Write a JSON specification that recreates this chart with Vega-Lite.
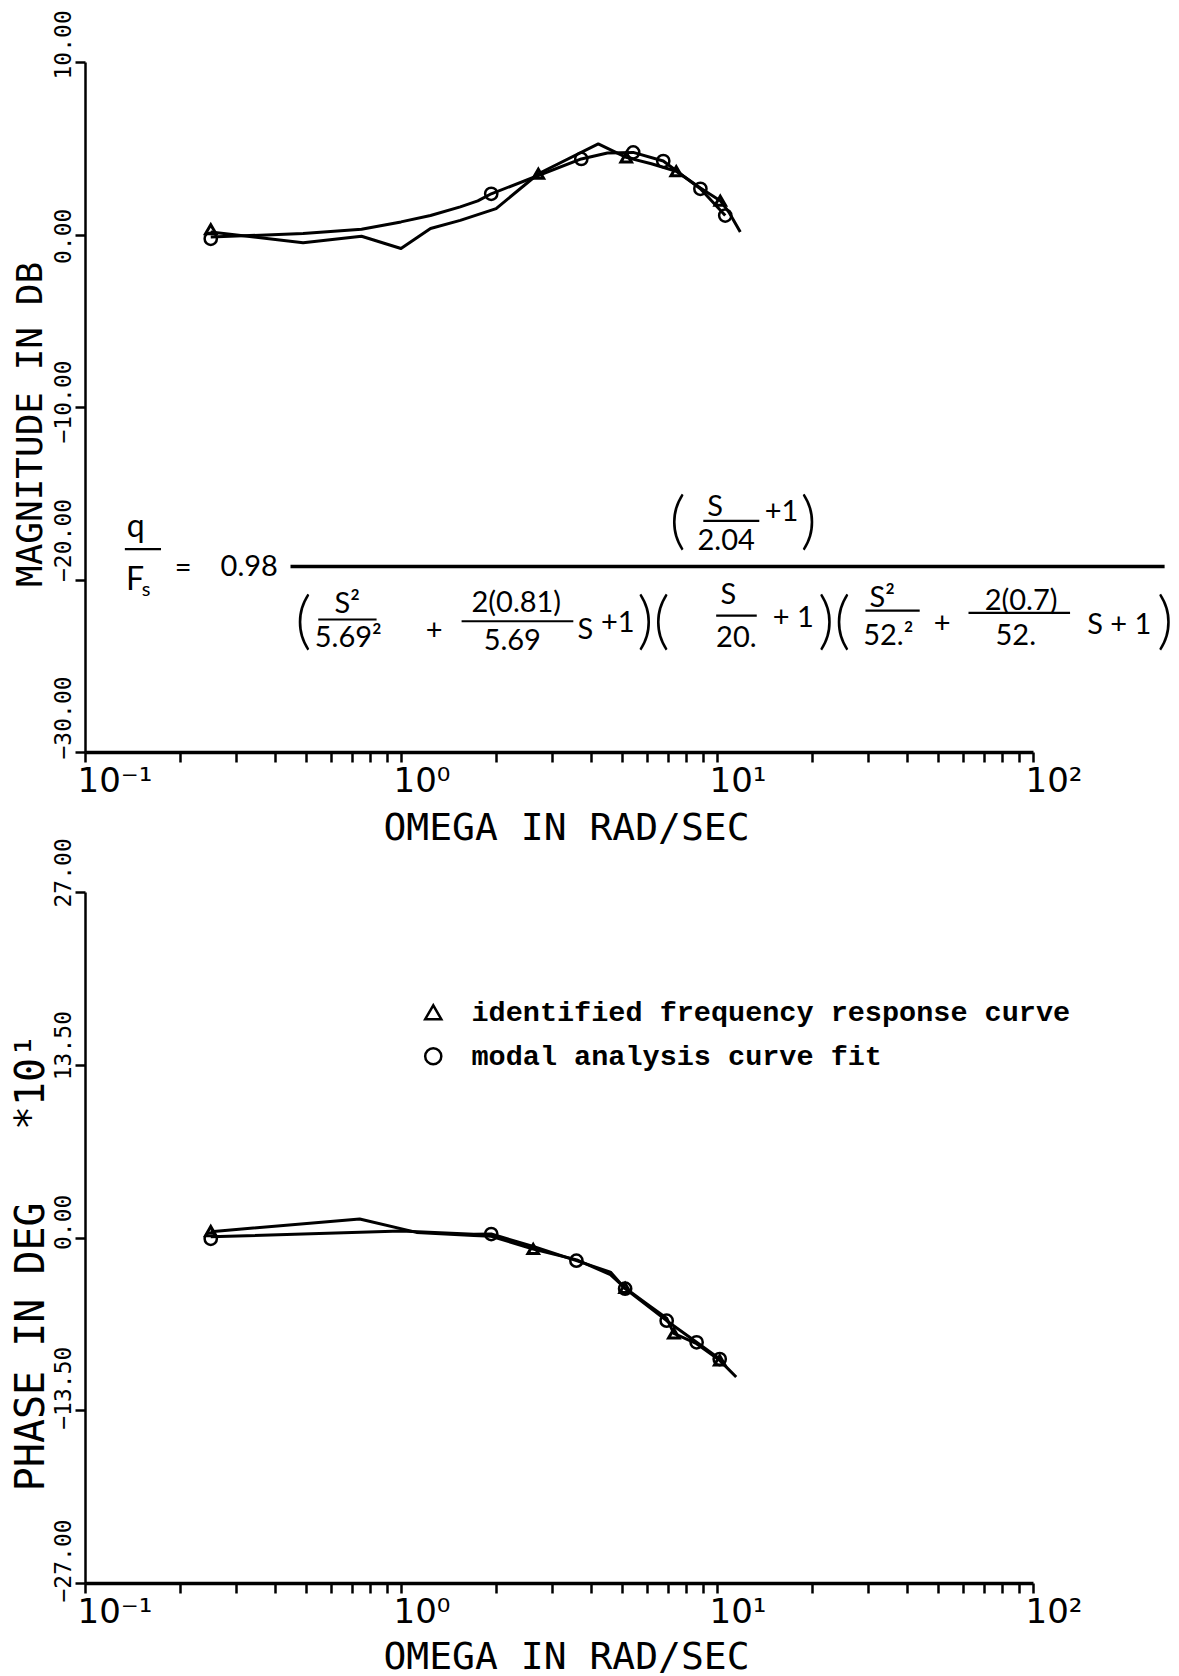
{
  "$schema": "https://vega.github.io/schema/vega-lite/v6.json",
  "background": "white",
  "padding": {"left": 10, "top": 9, "right": 0, "bottom": 0},
  "bounds": "flush",
  "spacing": 140,
  "config": {
    "view": {"stroke": null},
    "axis": {"grid": false, "domainColor": "black", "tickColor": "black", "labelColor": "black", "titleColor": "black", "titleFontWeight": "normal"}
  },
  "resolve": {
    "scale": {"x": "independent", "y": "independent", "shape": "independent"},
    "legend": {"shape": "independent"}
  },
  "datasets": {
    "magLine": [
      {"series": "identified frequency response curve", "w": 0.25, "v": 0.15},
      {"series": "identified frequency response curve", "w": 0.49, "v": -0.48},
      {"series": "identified frequency response curve", "w": 0.75, "v": -0.10},
      {"series": "identified frequency response curve", "w": 1.0, "v": -0.81},
      {"series": "identified frequency response curve", "w": 1.24, "v": 0.35},
      {"series": "identified frequency response curve", "w": 1.54, "v": 0.82},
      {"series": "identified frequency response curve", "w": 1.75, "v": 1.15},
      {"series": "identified frequency response curve", "w": 2.0, "v": 1.5},
      {"series": "identified frequency response curve", "w": 2.72, "v": 3.52},
      {"series": "identified frequency response curve", "w": 4.21, "v": 5.25},
      {"series": "identified frequency response curve", "w": 5.16, "v": 4.47},
      {"series": "identified frequency response curve", "w": 6.2, "v": 4.1},
      {"series": "identified frequency response curve", "w": 7.43, "v": 3.67},
      {"series": "identified frequency response curve", "w": 8.86, "v": 2.7},
      {"series": "identified frequency response curve", "w": 10.24, "v": 1.96},
      {"series": "identified frequency response curve", "w": 10.9, "v": 1.3},
      {"series": "identified frequency response curve", "w": 11.85, "v": 0.15},
      {"series": "modal analysis curve fit", "w": 0.25, "v": -0.15},
      {"series": "modal analysis curve fit", "w": 0.49, "v": 0.06},
      {"series": "modal analysis curve fit", "w": 0.75, "v": 0.30},
      {"series": "modal analysis curve fit", "w": 1.0, "v": 0.73},
      {"series": "modal analysis curve fit", "w": 1.24, "v": 1.1},
      {"series": "modal analysis curve fit", "w": 1.54, "v": 1.6},
      {"series": "modal analysis curve fit", "w": 1.75, "v": 1.95},
      {"series": "modal analysis curve fit", "w": 1.93, "v": 2.36},
      {"series": "modal analysis curve fit", "w": 2.72, "v": 3.42},
      {"series": "modal analysis curve fit", "w": 3.72, "v": 4.38},
      {"series": "modal analysis curve fit", "w": 4.5, "v": 4.72},
      {"series": "modal analysis curve fit", "w": 5.43, "v": 4.76},
      {"series": "modal analysis curve fit", "w": 6.76, "v": 4.26},
      {"series": "modal analysis curve fit", "w": 8.86, "v": 2.65},
      {"series": "modal analysis curve fit", "w": 10.62, "v": 1.1}
    ],
    "magTri": [
      {"series": "identified frequency response curve", "w": 0.25, "v": 0.3},
      {"series": "identified frequency response curve", "w": 2.72, "v": 3.52},
      {"series": "identified frequency response curve", "w": 5.16, "v": 4.47},
      {"series": "identified frequency response curve", "w": 7.43, "v": 3.67},
      {"series": "identified frequency response curve", "w": 10.24, "v": 1.96}
    ],
    "magCirc": [
      {"series": "modal analysis curve fit", "w": 0.25, "v": -0.25},
      {"series": "modal analysis curve fit", "w": 1.93, "v": 2.36},
      {"series": "modal analysis curve fit", "w": 3.72, "v": 4.38},
      {"series": "modal analysis curve fit", "w": 5.43, "v": 4.76},
      {"series": "modal analysis curve fit", "w": 6.76, "v": 4.26},
      {"series": "modal analysis curve fit", "w": 8.86, "v": 2.65},
      {"series": "modal analysis curve fit", "w": 10.62, "v": 1.1}
    ],
    "phLine": [
      {"series": "identified frequency response curve", "w": 0.25, "v": 0.45},
      {"series": "identified frequency response curve", "w": 0.74, "v": 1.45},
      {"series": "identified frequency response curve", "w": 1.12, "v": 0.4},
      {"series": "identified frequency response curve", "w": 1.7, "v": 0.15},
      {"series": "identified frequency response curve", "w": 1.93, "v": 0.1},
      {"series": "identified frequency response curve", "w": 2.62, "v": -0.9},
      {"series": "identified frequency response curve", "w": 3.6, "v": -1.75},
      {"series": "identified frequency response curve", "w": 4.6, "v": -2.9},
      {"series": "identified frequency response curve", "w": 5.12, "v": -3.95},
      {"series": "identified frequency response curve", "w": 6.0, "v": -5.2},
      {"series": "identified frequency response curve", "w": 6.93, "v": -6.3},
      {"series": "identified frequency response curve", "w": 7.3, "v": -7.5},
      {"series": "identified frequency response curve", "w": 8.62, "v": -8.3},
      {"series": "identified frequency response curve", "w": 10.2, "v": -9.6},
      {"series": "identified frequency response curve", "w": 11.5, "v": -10.9},
      {"series": "modal analysis curve fit", "w": 0.25, "v": 0.05},
      {"series": "modal analysis curve fit", "w": 1.0, "v": 0.5},
      {"series": "modal analysis curve fit", "w": 1.7, "v": 0.25},
      {"series": "modal analysis curve fit", "w": 1.93, "v": 0.27},
      {"series": "modal analysis curve fit", "w": 2.62, "v": -0.7},
      {"series": "modal analysis curve fit", "w": 3.59, "v": -1.81},
      {"series": "modal analysis curve fit", "w": 4.6, "v": -2.7},
      {"series": "modal analysis curve fit", "w": 5.12, "v": -4.0},
      {"series": "modal analysis curve fit", "w": 6.93, "v": -6.5},
      {"series": "modal analysis curve fit", "w": 8.62, "v": -8.19},
      {"series": "modal analysis curve fit", "w": 10.2, "v": -9.5}
    ],
    "phTri": [
      {"series": "identified frequency response curve", "w": 0.25, "v": 0.5},
      {"series": "identified frequency response curve", "w": 2.62, "v": -0.9},
      {"series": "identified frequency response curve", "w": 5.12, "v": -3.95},
      {"series": "identified frequency response curve", "w": 7.3, "v": -7.5},
      {"series": "identified frequency response curve", "w": 10.2, "v": -9.6}
    ],
    "phCirc": [
      {"series": "modal analysis curve fit", "w": 0.25, "v": -0.1},
      {"series": "modal analysis curve fit", "w": 1.93, "v": 0.27},
      {"series": "modal analysis curve fit", "w": 3.59, "v": -1.81},
      {"series": "modal analysis curve fit", "w": 5.12, "v": -4.0},
      {"series": "modal analysis curve fit", "w": 6.93, "v": -6.5},
      {"series": "modal analysis curve fit", "w": 8.62, "v": -8.19},
      {"series": "modal analysis curve fit", "w": 10.2, "v": -9.5}
    ]
  },
  "vconcat": [
    {
      "width": 948,
      "height": 690,
      "encoding": {
        "x": {
          "field": "w", "type": "quantitative",
          "scale": {"type": "log", "domain": [0.1, 100]},
          "axis": {
            "title": "OMEGA IN RAD/SEC",
            "values": [0.1,0.2,0.3,0.4,0.5,0.6,0.7,0.8,0.9,1,2,3,4,5,6,7,8,9,10,20,30,40,50,60,70,80,90,100],
            "labelExpr": "datum.value == 0.1 ? '10⁻¹' : datum.value == 1 ? '10⁰' : datum.value == 10 ? '10¹' : datum.value == 100 ? '10²' : ''",
            "domainWidth": 3.5, "tickWidth": 2.5, "tickSize": 10,
            "labelFont": "DejaVu Sans", "labelFontSize": 34, "labelAlign": "left", "labelBaseline": "top",
            "labelPadding": 2, "labelOffset": -8, "labelFlush": false, "labelOverlap": false, "labelBound": false,
            "titleFont": "DejaVu Sans Mono", "titleFontSize": 38, "titleX": 481, "titleY": 87,
            "titleAlign": "center", "titleBaseline": "alphabetic"
          }
        },
        "y": {
          "field": "v", "type": "quantitative",
          "scale": {"domain": [-30, 10], "nice": false, "zero": false},
          "axis": {
            "title": "MAGNITUDE IN DB",
            "values": [-30, -20, -10, 0, 10],
            "format": ".2f",
            "domainWidth": 2.5, "tickWidth": 2.5, "tickSize": 10,
            "labelAngle": 270, "labelAlign": "left", "labelBaseline": "alphabetic", "labelPadding": 5,
            "labelOffset": {"condition": [
              {"test": "datum.value == 10", "value": 17},
              {"test": "datum.value == 0", "value": 29},
              {"test": "datum.value == -10", "value": 36},
              {"test": "datum.value == -20", "value": 2}
            ], "value": 7},
            "labelFont": "DejaVu Sans Mono", "labelFontSize": 23, "labelFlush": false, "labelOverlap": false, "labelBound": false,
            "titleFont": "DejaVu Sans Mono", "titleFontSize": 36, "titleAngle": 270,
            "titleX": -44, "titleY": 362, "titleAlign": "center", "titleBaseline": "alphabetic"
          }
        }
      },
      "layer": [
        {
          "data": {"name": "magLine"},
          "mark": {"type": "line", "color": "black", "strokeWidth": 3, "strokeJoin": "round"},
          "encoding": {"detail": {"field": "series", "type": "nominal"}}
        },
        {
          "data": {"name": "magTri"},
          "mark": {"type": "point", "filled": false, "color": "black", "strokeWidth": 3, "size": 110, "opacity": 1},
          "encoding": {"shape": {"field": "series", "type": "nominal", "scale": {"domain": ["identified frequency response curve", "modal analysis curve fit"], "range": ["triangle-up", "circle"]}, "legend": null}}
        },
        {
          "data": {"name": "magCirc"},
          "mark": {"type": "point", "filled": false, "color": "black", "strokeWidth": 2.5, "size": 150, "opacity": 1},
          "encoding": {"shape": {"field": "series", "type": "nominal", "scale": {"domain": ["identified frequency response curve", "modal analysis curve fit"], "range": ["triangle-up", "circle"]}, "legend": null}}
        },
        {
          "data": {"values": [
            {"w": 0.1337, "w2": 0.174, "v": -18.24},
            {"w": 9.05, "w2": 13.61, "v": -16.6},
            {"w": 0.547, "w2": 0.837, "v": -22.32},
            {"w": 1.555, "w2": 3.51, "v": -22.42},
            {"w": 9.94, "w2": 13.36, "v": -22.1},
            {"w": 29.5, "w2": 43.8, "v": -21.8},
            {"w": 62.5, "w2": 131, "v": -21.93}
          ]},
          "mark": {"type": "rule", "color": "black", "strokeWidth": 2.2},
          "encoding": {"x2": {"field": "w2"}}
        },
        {
          "data": {"values": [{"w": 0.447, "w2": 260.9, "v": -19.24}]},
          "mark": {"type": "rule", "color": "black", "strokeWidth": 3.5},
          "encoding": {"x2": {"field": "w2"}}
        },
        {
          "data": {"values": [
            {"t": "q", "w": 0.1448, "v": -16.93},
            {"t": "F", "w": 0.1439, "v": -20.05}
          ]},
          "mark": {"type": "text", "font": "Lato", "fontSize": 32, "color": "black", "align": "center", "baseline": "middle"},
          "encoding": {"text": {"field": "t"}}
        },
        {
          "data": {"values": [{"t": "s", "w": 0.156, "v": -20.6}]},
          "mark": {"type": "text", "font": "Lato", "fontSize": 20, "color": "black", "align": "center", "baseline": "middle"},
          "encoding": {"text": {"field": "t"}}
        },
        {
          "data": {"values": [
            {"t": "=", "w": 0.2046, "v": -19.36},
            {"t": "0.98", "w": 0.331, "v": -19.3},
            {"t": "S", "w": 9.87, "v": -15.8},
            {"t": "2.04", "w": 10.69, "v": -17.75},
            {"t": "+1", "w": 16.0, "v": -16.1},
            {"t": "S²", "w": 0.676, "v": -21.4},
            {"t": "5.69²", "w": 0.681, "v": -23.38},
            {"t": "+", "w": 1.274, "v": -22.98},
            {"t": "2(0.81)", "w": 2.317, "v": -21.34},
            {"t": "5.69", "w": 2.25, "v": -23.57},
            {"t": "S", "w": 3.83, "v": -22.92},
            {"t": "+1", "w": 4.85, "v": -22.54},
            {"t": "S", "w": 10.86, "v": -20.9},
            {"t": "20.", "w": 11.51, "v": -23.4},
            {"t": "+ 1", "w": 17.43, "v": -22.25},
            {"t": "S²", "w": 33.34, "v": -21.1},
            {"t": "52.²", "w": 34.84, "v": -23.3},
            {"t": "+", "w": 51.6, "v": -22.57},
            {"t": "2(0.7)", "w": 91.7, "v": -21.22},
            {"t": "52.", "w": 88.2, "v": -23.27},
            {"t": "S + 1", "w": 187.5, "v": -22.63}
          ]},
          "mark": {"type": "text", "font": "Lato", "fontSize": 29, "color": "black", "align": "center", "baseline": "middle"},
          "encoding": {"text": {"field": "t"}}
        },
        {
          "data": {"values": [
            {"t": "(", "w": 7.5, "v": -16.7},
            {"t": ")", "w": 19.5, "v": -16.7},
            {"t": "(", "w": 0.491, "v": -22.54},
            {"t": ")(", "w": 6.3, "v": -22.54},
            {"t": ")(", "w": 23.5, "v": -22.54},
            {"t": ")", "w": 262, "v": -22.54}
          ]},
          "mark": {"type": "text", "font": "Lato", "fontWeight": 300, "fontSize": 63, "color": "black", "align": "center", "baseline": "middle"},
          "encoding": {"text": {"field": "t"}}
        }
      ]
    },
    {
      "width": 948,
      "height": 691,
      "encoding": {
        "x": {
          "field": "w", "type": "quantitative",
          "scale": {"type": "log", "domain": [0.1, 100]},
          "axis": {
            "title": "OMEGA IN RAD/SEC",
            "values": [0.1,0.2,0.3,0.4,0.5,0.6,0.7,0.8,0.9,1,2,3,4,5,6,7,8,9,10,20,30,40,50,60,70,80,90,100],
            "labelExpr": "datum.value == 0.1 ? '10⁻¹' : datum.value == 1 ? '10⁰' : datum.value == 10 ? '10¹' : datum.value == 100 ? '10²' : ''",
            "domainWidth": 3.5, "tickWidth": 2.5, "tickSize": 10,
            "labelFont": "DejaVu Sans", "labelFontSize": 34, "labelAlign": "left", "labelBaseline": "top",
            "labelPadding": 2, "labelOffset": -8, "labelFlush": false, "labelOverlap": false, "labelBound": false,
            "titleFont": "DejaVu Sans Mono", "titleFontSize": 38, "titleX": 481, "titleY": 85,
            "titleAlign": "center", "titleBaseline": "alphabetic"
          }
        },
        "y": {
          "field": "v", "type": "quantitative",
          "scale": {"domain": [-27, 27], "nice": false, "zero": false},
          "axis": {
            "title": "PHASE IN DEG\u00a0\u00a0\u00a0*10¹",
            "values": [-27, -13.5, 0, 13.5, 27],
            "format": ".2f",
            "domainWidth": 2.5, "tickWidth": 2.5, "tickSize": 10,
            "labelAngle": 270, "labelAlign": "left", "labelBaseline": "alphabetic", "labelPadding": 5,
            "labelOffset": {"condition": [
              {"test": "datum.value == 27", "value": 15},
              {"test": "datum.value == 13.5", "value": 15},
              {"test": "datum.value == 0", "value": 12}
            ], "value": 19},
            "labelFont": "DejaVu Sans Mono", "labelFontSize": 23, "labelFlush": false, "labelOverlap": false, "labelBound": false,
            "titleFont": "DejaVu Sans Mono", "titleFontSize": 40, "titleAngle": 270,
            "titleX": -42, "titleY": 370, "titleAlign": "center", "titleBaseline": "alphabetic"
          }
        }
      },
      "layer": [
        {
          "data": {"name": "phLine"},
          "mark": {"type": "line", "color": "black", "strokeWidth": 3, "strokeJoin": "round"},
          "encoding": {"detail": {"field": "series", "type": "nominal"}}
        },
        {
          "data": {"name": "phTri"},
          "mark": {"type": "point", "filled": false, "color": "black", "strokeWidth": 3, "size": 110, "opacity": 1},
          "encoding": {"shape": {
            "field": "series", "type": "nominal",
            "scale": {"domain": ["identified frequency response curve", "modal analysis curve fit"], "range": ["triangle-up", "circle"]},
            "legend": {
              "orient": "none", "legendX": 334, "legendY": 106, "title": null, "padding": 0,
              "labelFont": "Liberation Mono", "labelFontSize": 28.5, "labelFontWeight": "bold", "labelColor": "black",
              "labelLimit": 0, "labelOffset": 24, "rowPadding": 15,
              "symbolSize": 260, "symbolStrokeWidth": 2.5, "symbolStrokeColor": "black", "symbolFillColor": "white", "symbolOpacity": 1
            }
          }}
        },
        {
          "data": {"name": "phCirc"},
          "mark": {"type": "point", "filled": false, "color": "black", "strokeWidth": 2.5, "size": 150, "opacity": 1},
          "encoding": {"shape": {"field": "series", "type": "nominal", "scale": {"domain": ["identified frequency response curve", "modal analysis curve fit"], "range": ["triangle-up", "circle"]}}}
        }
      ]
    }
  ]
}
